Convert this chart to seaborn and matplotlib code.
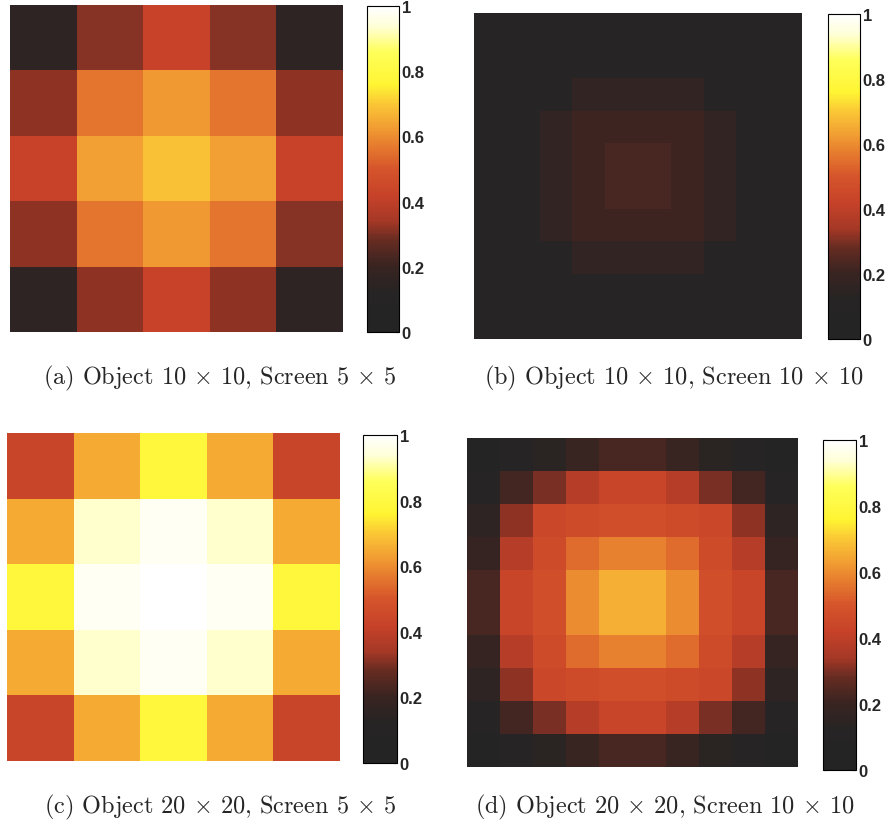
import numpy as np
import matplotlib
matplotlib.use("Agg")
import matplotlib.pyplot as plt
from matplotlib.colors import LinearSegmentedColormap
import seaborn as sns

# panel (a): object 10x10, screen 5x5
vals_a = [
    [0.15, 0.31, 0.42, 0.31, 0.15],
    [0.32, 0.56, 0.62, 0.56, 0.32],
    [0.42, 0.63, 0.69, 0.63, 0.42],
    [0.32, 0.56, 0.62, 0.56, 0.31],
    [0.15, 0.32, 0.42, 0.32, 0.15],
]

# panel (b): object 10x10, screen 10x10
vals_b = [
    [0.10, 0.10, 0.10, 0.10, 0.10, 0.10, 0.10, 0.10, 0.10, 0.10],
    [0.10, 0.10, 0.10, 0.10, 0.10, 0.10, 0.10, 0.10, 0.10, 0.10],
    [0.10, 0.10, 0.10, 0.17, 0.17, 0.17, 0.17, 0.10, 0.10, 0.10],
    [0.10, 0.10, 0.17, 0.21, 0.21, 0.21, 0.21, 0.17, 0.10, 0.10],
    [0.10, 0.10, 0.17, 0.21, 0.23, 0.23, 0.21, 0.17, 0.10, 0.10],
    [0.10, 0.10, 0.17, 0.21, 0.23, 0.23, 0.21, 0.17, 0.10, 0.10],
    [0.10, 0.10, 0.17, 0.21, 0.21, 0.21, 0.21, 0.17, 0.10, 0.10],
    [0.10, 0.10, 0.10, 0.17, 0.17, 0.17, 0.17, 0.10, 0.10, 0.10],
    [0.10, 0.10, 0.10, 0.10, 0.10, 0.10, 0.10, 0.10, 0.10, 0.10],
    [0.10, 0.10, 0.10, 0.10, 0.10, 0.10, 0.10, 0.10, 0.10, 0.10],
]

# panel (c): object 20x20, screen 5x5
vals_c = [
    [0.43, 0.65, 0.78, 0.65, 0.43],
    [0.65, 0.93, 0.98, 0.93, 0.65],
    [0.78, 0.98, 1.00, 0.98, 0.78],
    [0.65, 0.93, 0.98, 0.93, 0.65],
    [0.43, 0.65, 0.78, 0.65, 0.43],
]

# panel (d): object 20x20, screen 10x10
vals_d = [
    [0.08, 0.10, 0.14, 0.20, 0.23, 0.23, 0.20, 0.14, 0.10, 0.08],
    [0.10, 0.22, 0.30, 0.38, 0.43, 0.43, 0.38, 0.30, 0.22, 0.10],
    [0.15, 0.32, 0.44, 0.46, 0.47, 0.47, 0.46, 0.44, 0.32, 0.15],
    [0.19, 0.38, 0.46, 0.54, 0.58, 0.58, 0.54, 0.46, 0.38, 0.19],
    [0.23, 0.43, 0.47, 0.60, 0.66, 0.66, 0.60, 0.47, 0.43, 0.23],
    [0.23, 0.43, 0.47, 0.60, 0.66, 0.66, 0.60, 0.47, 0.43, 0.23],
    [0.19, 0.38, 0.46, 0.54, 0.58, 0.58, 0.54, 0.46, 0.38, 0.19],
    [0.15, 0.32, 0.44, 0.46, 0.47, 0.47, 0.46, 0.44, 0.32, 0.15],
    [0.10, 0.22, 0.30, 0.38, 0.43, 0.43, 0.38, 0.30, 0.22, 0.10],
    [0.08, 0.10, 0.14, 0.20, 0.23, 0.23, 0.20, 0.14, 0.10, 0.08],
]

captions = [
    r"(a) Object 10 $\times$ 10, Screen 5 $\times$ 5",
    r"(b) Object 10 $\times$ 10, Screen 10 $\times$ 10",
    r"(c) Object 20 $\times$ 20, Screen 5 $\times$ 5",
    r"(d) Object 20 $\times$ 20, Screen 10 $\times$ 10",
]
cbar_ticks = [0, 0.2, 0.4, 0.6, 0.8, 1]
cbar_labels = ["0", "0.2", "0.4", "0.6", "0.8", "1"]

# washed-out "hot" map, as it looks in the scanned figure
hot_scan = LinearSegmentedColormap.from_list("hot_scan", [
    (0.00, (0.14, 0.14, 0.14)),
    (0.12, (0.15, 0.14, 0.14)),
    (0.20, (0.22, 0.14, 0.13)),
    (0.28, (0.40, 0.17, 0.13)),
    (0.34, (0.65, 0.22, 0.15)),
    (0.42, (0.78, 0.26, 0.16)),
    (0.50, (0.84, 0.33, 0.17)),
    (0.57, (0.90, 0.48, 0.18)),
    (0.63, (0.95, 0.62, 0.20)),
    (0.70, (0.98, 0.78, 0.21)),
    (0.76, (1.00, 0.96, 0.20)),
    (0.86, (1.00, 1.00, 0.35)),
    (0.94, (1.00, 1.00, 0.85)),
    (1.00, (1.00, 1.00, 1.00)),
])

sns.set_style("white")
plt.rcParams['mathtext.fontset'] = 'cm'

W, H = 893, 828
fig = plt.figure(figsize=(W / 100, H / 100), dpi=100)


def box(x0, y0, x1, y1):
    return [x0 / W, 1 - y1 / H, (x1 - x0) / W, (y1 - y0) / H]


panels = [
    (vals_a, box(10, 6, 343, 333), box(367, 7, 399, 333), (220, 378)),
    (vals_b, box(474, 14, 802, 340), box(828, 15, 860, 340), (674, 378)),
    (vals_c, box(7, 434, 340, 762), box(363, 436, 397, 764), (220, 807)),
    (vals_d, box(467, 439, 798, 768), box(823, 441, 856, 771), (665, 807)),
]

for (vals, ax_box, cb_box, cap_xy), cap in zip(panels, captions):
    ax = fig.add_axes(ax_box)
    cax = fig.add_axes(cb_box)
    sns.heatmap(np.array(vals), ax=ax, cbar_ax=cax, cmap=hot_scan,
                vmin=0, vmax=1, xticklabels=False, yticklabels=False)
    ax.set_axis_off()
    cb = ax.collections[0].colorbar
    cb.set_ticks(cbar_ticks)
    cb.set_ticklabels(cbar_labels)
    cax.tick_params(direction='in', left=True, right=True, length=3,
                    width=0.8, labelsize=12, pad=2)
    for lab in cax.get_yticklabels():
        lab.set_fontweight('bold')
        lab.set_family(['Liberation Sans', 'DejaVu Sans'])
    cb.outline.set_visible(True)
    cb.outline.set_edgecolor('black')
    cb.outline.set_linewidth(0.8)
    fig.text(cap_xy[0] / W, 1 - cap_xy[1] / H, cap, ha='center', va='center',
             fontsize=17.5, family=['cmr10', 'DejaVu Serif'])

fig.savefig("out.png", dpi=100)
